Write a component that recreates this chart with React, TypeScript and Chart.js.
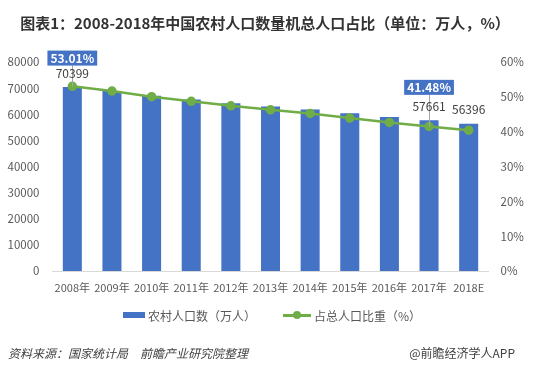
import React, { useEffect, useRef } from "react";
import { Chart, registerables } from "chart.js";

Chart.register(...registerables);

const titleText = "图表1：2008-2018年中国农村人口数量机总人口占比（单位：万人，%）";
const categories = ["2008年", "2009年", "2010年", "2011年", "2012年", "2013年", "2014年", "2015年", "2016年", "2017年", "2018E"];
const ruralPopulation = [70399, 68938, 67113, 65656, 64222, 62961, 61866, 60346, 58973, 57661, 56396];
const ruralShare = [53.01, 51.66, 50.05, 48.7, 47.43, 46.27, 45.23, 43.9, 42.65, 41.48, 40.42];
const seriesNames = ["农村人口数（万人）", "占总人口比重（%）"];
const leftAxisMax = 80000;
const leftAxisStep = 10000;
const rightAxisMax = 60;
const rightAxisStep = 10;
const valueLabelIndices = [0, 9, 10];
const shareBoxIndices = [0, 9];
const sourceText = "资料来源：国家统计局　前瞻产业研究院整理";
const creditText = "@前瞻经济学人APP";

const BLUE = "#4472C4";
const GREEN = "#70AD47";
const TEXT = "#595959";
const FONT = "'Noto Sans CJK SC', 'Microsoft YaHei', sans-serif";

const annotationPlugin = {
  id: "valueAnnotations",
  afterDatasetsDraw(chart: any) {
    const ctx = chart.ctx as CanvasRenderingContext2D;
    const barMeta = chart.getDatasetMeta(0);
    const lineMeta = chart.getDatasetMeta(1);
    ctx.save();
    valueLabelIndices.forEach((i) => {
      const bar = barMeta.data[i];
      const pt = lineMeta.data[i];
      const numY = bar.y - 14;
      const hasBox = shareBoxIndices.includes(i);
      const boxH = 15;
      const boxCY = numY - (i === 0 ? 15 : 19);
      if (hasBox) {
        ctx.strokeStyle = "#a6a6a6";
        ctx.lineWidth = 1;
        ctx.beginPath();
        ctx.moveTo(Math.round(pt.x) + 0.5, boxCY + boxH / 2);
        ctx.lineTo(Math.round(pt.x) + 0.5, pt.y);
        ctx.stroke();
      }
      ctx.font = `12px ${FONT}`;
      ctx.fillStyle = "#404040";
      ctx.textAlign = "center";
      ctx.textBaseline = "middle";
      ctx.fillText(String(ruralPopulation[i]), bar.x, numY);
      if (hasBox) {
        const label = ruralShare[i].toFixed(2) + "%";
        ctx.font = `bold 12px ${FONT}`;
        const w = ctx.measureText(label).width + 6;
        ctx.fillStyle = BLUE;
        ctx.fillRect(pt.x - w / 2, boxCY - boxH / 2, w, boxH);
        ctx.fillStyle = "#ffffff";
        ctx.fillText(label, pt.x, boxCY + 0.5);
      }
    });
    ctx.restore();
  },
};

export default function App() {
  const canvasRef = useRef<HTMLCanvasElement | null>(null);

  useEffect(() => {
    if (!canvasRef.current) return;
    Chart.defaults.font.family = FONT;
    const chart = new Chart(canvasRef.current, {
      type: "bar",
      data: {
        labels: categories,
        datasets: [
          {
            type: "bar",
            label: seriesNames[0],
            data: ruralPopulation,
            backgroundColor: BLUE,
            yAxisID: "y",
            order: 1,
            barPercentage: 0.48,
            categoryPercentage: 1,
          },
          {
            type: "line",
            label: seriesNames[1],
            data: ruralShare,
            borderColor: GREEN,
            backgroundColor: GREEN,
            borderWidth: 2.5,
            pointRadius: 3.5,
            pointBackgroundColor: GREEN,
            pointBorderColor: GREEN,
            tension: 0,
            yAxisID: "y1",
            order: 0,
          },
        ],
      } as any,
      options: {
        responsive: false,
        animation: false,
        layout: { padding: { top: 62, left: 0, right: 0, bottom: 0 } },
        plugins: {
          legend: { display: false },
          tooltip: { enabled: false },
          title: { display: false },
        },
        scales: {
          x: {
            grid: { display: false, drawTicks: false },
            border: { display: true, color: "#d9d9d9", width: 1 },
            ticks: { color: TEXT, font: { size: 11 }, padding: 10, maxRotation: 0, autoSkip: false },
            afterFit(axis: any) {
              axis.height = 372 - 271;
            },
          },
          y: {
            position: "left",
            min: 0,
            max: leftAxisMax,
            grid: { display: false, drawTicks: false },
            border: { display: false },
            ticks: {
              stepSize: leftAxisStep,
              color: TEXT,
              font: { size: 11.5 },
              padding: 13,
              callback: (v: any) => String(v),
            },
            afterFit(axis: any) {
              axis.width = 52.5;
            },
          },
          y1: {
            position: "right",
            min: 0,
            max: rightAxisMax,
            grid: { display: false, drawTicks: false },
            border: { display: false },
            ticks: {
              stepSize: rightAxisStep,
              color: TEXT,
              font: { size: 11.5 },
              padding: 12,
              callback: (v: any) => v + "%",
            },
            afterFit(axis: any) {
              axis.width = 49.5;
            },
          },
        },
      } as any,
      plugins: [annotationPlugin],
    });
    return () => chart.destroy();
  }, []);

  return (
    <div
      style={{
        position: "absolute",
        left: 0,
        top: 0,
        width: 538,
        height: 372,
        background: "#ffffff",
        fontFamily: FONT,
        overflow: "hidden",
      }}
    >
      <canvas ref={canvasRef} width={538} height={372} style={{ position: "absolute", left: 0, top: 0 }} />
      <div
        style={{
          position: "absolute",
          left: -4,
          top: 13,
          width: 538,
          textAlign: "center",
          fontSize: 15,
          fontWeight: "bold",
          color: "#333333",
          lineHeight: "20px",
          whiteSpace: "nowrap",
        }}
      >
        {titleText}
      </div>
      <div
        style={{
          position: "absolute",
          left: 123,
          top: 307,
          height: 16,
          display: "flex",
          alignItems: "center",
          fontSize: 12,
          color: TEXT,
          whiteSpace: "nowrap",
        }}
      >
        <span style={{ display: "inline-block", width: 22, height: 6, background: BLUE, marginRight: 3 }} />
        <span>{seriesNames[0]}</span>
        <span style={{ position: "relative", display: "inline-block", width: 28, height: 10, marginLeft: 27, marginRight: 3 }}>
          <span style={{ position: "absolute", left: 0, top: 3.5, width: 28, height: 3, background: GREEN }} />
          <span style={{ position: "absolute", left: 10, top: 1, width: 8, height: 8, borderRadius: 4, background: GREEN }} />
        </span>
        <span>{seriesNames[1]}</span>
      </div>
      <div
        style={{
          position: "absolute",
          left: 8,
          top: 344,
          fontSize: 12,
          fontStyle: "italic",
          color: "#404040",
          whiteSpace: "nowrap",
          lineHeight: "18px",
        }}
      >
        {sourceText}
      </div>
      <div
        style={{
          position: "absolute",
          right: 23,
          top: 344,
          fontSize: 12,
          color: "#404040",
          whiteSpace: "nowrap",
          lineHeight: "18px",
        }}
      >
        {creditText}
      </div>
    </div>
  );
}
